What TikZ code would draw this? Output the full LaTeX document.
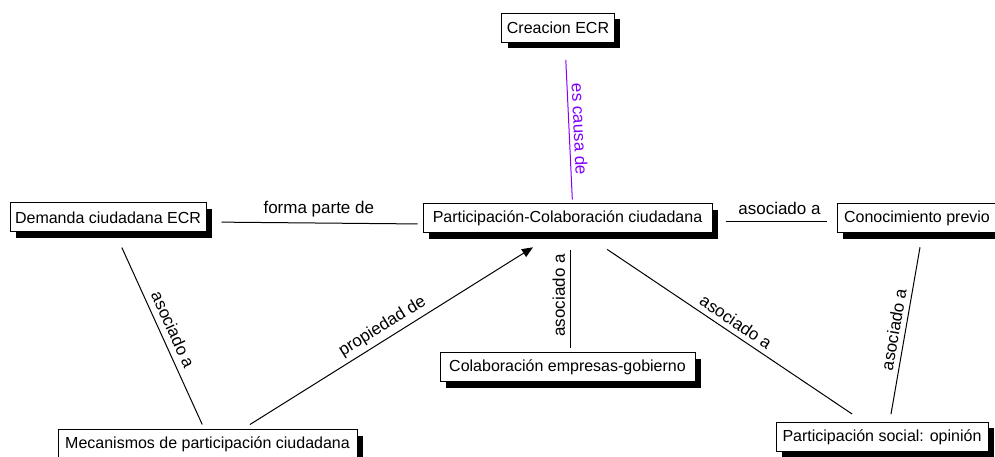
\documentclass[tikz,border=0pt]{standalone}
\usepackage{fontspec}
\setmainfont{Liberation Sans}
\usetikzlibrary{arrows.meta,shadows}
\definecolor{causa}{RGB}{130,0,255}
\tikzset{
  every picture/.style={font={\fontsize{16}{19}\selectfont}, >={Triangle[length=11pt,width=9pt]}},
  concept/.style={draw, fill=white, line width=1pt, inner xsep=5pt, inner ysep=0pt,
    minimum height=29pt,
    drop shadow={shadow xshift=6pt, shadow yshift=-6pt, fill=black, opacity=1}},
  link/.style={draw, line width=1pt},
  linkword/.style={font={\fontsize{17}{20}\selectfont}, inner sep=1pt}}

\begin{document}
\begin{tikzpicture}[x=1pt, y=1pt]
  \fill [white] (0,0) rectangle (995,457);
  \useasboundingbox (0,0) rectangle (995,457);
  \clip (0,0) rectangle (995,457);

  % concepts
  \node [concept, minimum width=110pt] (creacion) at (558,429) {Creacion ECR};
  \node [concept, minimum width=196pt] (demanda) at (108,239.5) {Demanda ciudadana ECR};
  \node [concept, minimum width=289pt] (particip) at (567.5,238.5) {Participación-Colaboración ciudadana};
  \node [concept, minimum width=160pt] (conoc) at (917,238.5) {Conocimiento previo};
  \node [concept, minimum width=255pt] (colab) at (567.5,89.5) {Colaboración empresas-gobierno};
  \node [concept, minimum width=299pt] (mecan) at (207.5,12.5) {Mecanismos de participación ciudadana};
  \node [concept, minimum width=212pt] (social) at (882,20) {Participación social: opinión};

  % links
  \draw [link, causa, shorten <=17pt, shorten >=4pt]
    ([xshift=7pt]creacion.south) -- ([xshift=5pt]particip.north)
    node [linkword, pos=.54, sloped, above=3pt] {es causa de};
  \draw [link, shorten <=15pt, shorten >=5pt]
    ([yshift=-4.5pt]demanda.east) -- ([yshift=-5.5pt]particip.west)
    node [linkword, pos=.52, above=5pt] {forma parte de};
  \draw [link, shorten <=13pt, shorten >=10pt]
    ([yshift=-3.5pt]particip.east) -- ([yshift=-3.5pt]conoc.west)
    node [linkword, pos=.54, above=6pt] {asociado a};
  \draw [link, shorten <=16.5pt, shorten >=5.5pt]
    ([xshift=7pt]demanda.south) -- ([xshift=-3pt]mecan.north)
    node [linkword, pos=.52, sloped, above=5pt] {asociado a};
  \draw [link, ->, shorten <=9.4pt, shorten >=26pt]
    ([xshift=34.5pt]mecan.north) -- ([xshift=-12.5pt]particip.south)
    node [linkword, pos=.47, sloped, above=3pt] {propiedad de};
  \draw [link, shorten <=4pt, shorten >=17pt]
    ([xshift=3pt]colab.north) -- ([xshift=3pt]particip.south)
    node [linkword, pos=.48, sloped, allow upside down, above=4pt] {asociado a};
  \draw [link, shorten <=28.5pt, shorten >=14.3pt]
    ([xshift=16pt]particip.south) -- ([xshift=-18pt]social.north)
    node [linkword, pos=.52, sloped, above=4pt] {asociado a};
  \draw [link, shorten <=8pt, shorten >=14pt]
    ([xshift=7.6pt]social.north) -- ([xshift=5.4pt]conoc.south)
    node [linkword, pos=.48, sloped, above=4pt] {asociado a};
\end{tikzpicture}
\end{document}
